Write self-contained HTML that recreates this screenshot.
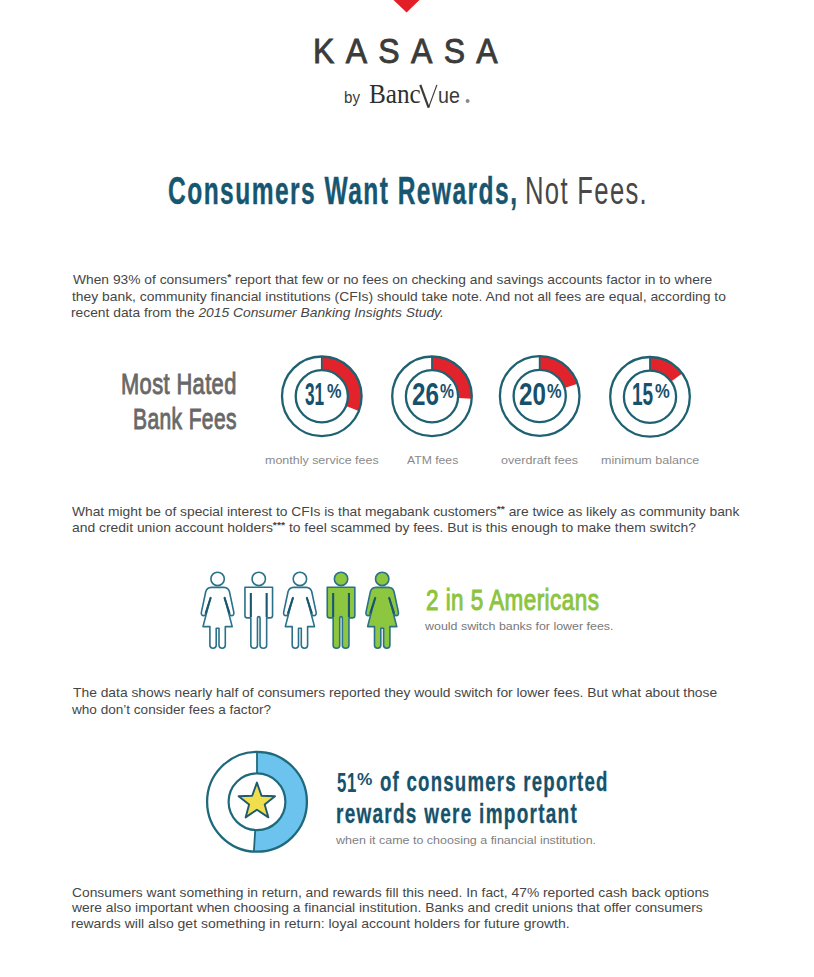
<!DOCTYPE html>
<html><head><meta charset="utf-8">
<style>
html,body{margin:0;padding:0;background:#fff;}
body{width:814px;height:977px;position:relative;overflow:hidden;font-family:"Liberation Sans",sans-serif;}
.t{position:absolute;white-space:nowrap;line-height:1;transform-origin:0 0;}
.s{font-size:75%;font-weight:bold;position:relative;top:-0.4em;}
.pc{font-size:58%;position:relative;top:-0.62em;margin-left:0.04em;}
svg{position:absolute;left:0;top:0;}
</style></head><body>
<svg width="814" height="977" viewBox="0 0 814 977">
<path d="M393.5,0 L419.5,0 L406.6,12.6 Z" fill="#e21f27"/>
<path d="M428.6,107.6 L436.9,84.9" fill="none" stroke="#3b3b39" stroke-width="1.2"/>
<path d="M420.3,84.8 L428.6,107.6" fill="none" stroke="#3b3b39" stroke-width="2.2"/>
<circle cx="467.6" cy="101" r="2" fill="#8a8a8a"/>
<path d="M321.80,356.50 A39.8,39.8 0 0 1 358.81,410.95 L346.07,405.91 A26.1,26.1 0 0 0 321.80,370.20 Z" fill="#e3232b"/><circle cx="321.8" cy="396.3" r="39.8" fill="none" stroke="#1e6272" stroke-width="2.3"/><circle cx="321.8" cy="396.3" r="26.1" fill="none" stroke="#1e6272" stroke-width="2.3"/><line x1="321.8" y1="356.5" x2="321.8" y2="370.2" stroke="#1e6272" stroke-width="1.8"/>
<path d="M432.00,356.50 A39.8,39.8 0 0 1 471.72,398.80 L458.05,397.94 A26.1,26.1 0 0 0 432.00,370.20 Z" fill="#e3232b"/><circle cx="432.0" cy="396.3" r="39.8" fill="none" stroke="#1e6272" stroke-width="2.3"/><circle cx="432.0" cy="396.3" r="26.1" fill="none" stroke="#1e6272" stroke-width="2.3"/><line x1="432.0" y1="356.5" x2="432.0" y2="370.2" stroke="#1e6272" stroke-width="1.8"/>
<path d="M539.70,356.20 A39.8,39.8 0 0 1 577.55,383.70 L564.52,387.93 A26.1,26.1 0 0 0 539.70,369.90 Z" fill="#e3232b"/><circle cx="539.7" cy="396.0" r="39.8" fill="none" stroke="#1e6272" stroke-width="2.3"/><circle cx="539.7" cy="396.0" r="26.1" fill="none" stroke="#1e6272" stroke-width="2.3"/><line x1="539.7" y1="356.2" x2="539.7" y2="369.9" stroke="#1e6272" stroke-width="1.8"/>
<path d="M650.00,357.00 A39.8,39.8 0 0 1 682.20,373.41 L671.12,381.46 A26.1,26.1 0 0 0 650.00,370.70 Z" fill="#e3232b"/><circle cx="650.0" cy="396.8" r="39.8" fill="none" stroke="#1e6272" stroke-width="2.3"/><circle cx="650.0" cy="396.8" r="26.1" fill="none" stroke="#1e6272" stroke-width="2.3"/><line x1="650.0" y1="357.0" x2="650.0" y2="370.7" stroke="#1e6272" stroke-width="1.8"/>
<g transform="translate(217.6,566)"><circle cx="0" cy="12.9" r="6.7" fill="#ffffff" stroke="#2a7189" stroke-width="1.6"/><path d="M0,21.4 L6.5,21.4 Q10.5,21.6 11.8,25.5 L16.2,46.2 Q16.8,49.6 13.8,49.6 Q12.3,49.6 11.9,48 L7,31.5 L14.6,60.6 L7.7,60.6 L7.7,79.3 Q7.7,82.2 4.6,82.2 Q1.4,82.2 1.4,79.3 L1.4,62.2 L-1.4,62.2 L-1.4,79.3 Q-1.4,82.2 -4.6,82.2 Q-7.7,82.2 -7.7,79.3 L-7.7,60.6 L-14.6,60.6 L-7,31.5 L-11.9,48 Q-12.3,49.6 -13.8,49.6 Q-16.8,49.6 -16.2,46.2 L-11.8,25.5 Q-10.5,21.6 -6.5,21.4 Z" fill="#ffffff" stroke="#2a7189" stroke-width="1.6" stroke-linejoin="round"/><path d="M6.8,31.5 L12,47.5 M-6.8,31.5 L-12,47.5" fill="none" stroke="#1b5670" stroke-width="2.1"/></g>
<g transform="translate(258.75,566)"><circle cx="0" cy="12.9" r="6.7" fill="#ffffff" stroke="#2a7189" stroke-width="1.6"/><path d="M-13.8,21.2 L13.8,21.2 L13.8,49.4 Q13.8,51.9 11.3,51.9 L7.9,51.9 L7.9,79.2 Q7.9,82.2 4.6,82.2 Q1.3,82.2 1.3,79.2 L1.3,52.5 Q1.3,50.6 0,50.6 Q-1.3,50.6 -1.3,52.5 L-1.3,79.2 Q-1.3,82.2 -4.6,82.2 Q-7.9,82.2 -7.9,79.2 L-7.9,51.9 L-11.3,51.9 Q-13.8,51.9 -13.8,49.4 Z" fill="#ffffff" stroke="#2a7189" stroke-width="1.6" stroke-linejoin="round"/><path d="M7.9,27 L7.9,51 M-7.9,27 L-7.9,51" fill="none" stroke="#1b5670" stroke-width="2.1"/></g>
<g transform="translate(299.9,566)"><circle cx="0" cy="12.9" r="6.7" fill="#ffffff" stroke="#2a7189" stroke-width="1.6"/><path d="M0,21.4 L6.5,21.4 Q10.5,21.6 11.8,25.5 L16.2,46.2 Q16.8,49.6 13.8,49.6 Q12.3,49.6 11.9,48 L7,31.5 L14.6,60.6 L7.7,60.6 L7.7,79.3 Q7.7,82.2 4.6,82.2 Q1.4,82.2 1.4,79.3 L1.4,62.2 L-1.4,62.2 L-1.4,79.3 Q-1.4,82.2 -4.6,82.2 Q-7.7,82.2 -7.7,79.3 L-7.7,60.6 L-14.6,60.6 L-7,31.5 L-11.9,48 Q-12.3,49.6 -13.8,49.6 Q-16.8,49.6 -16.2,46.2 L-11.8,25.5 Q-10.5,21.6 -6.5,21.4 Z" fill="#ffffff" stroke="#2a7189" stroke-width="1.6" stroke-linejoin="round"/><path d="M6.8,31.5 L12,47.5 M-6.8,31.5 L-12,47.5" fill="none" stroke="#1b5670" stroke-width="2.1"/></g>
<g transform="translate(341.04999999999995,566)"><circle cx="0" cy="12.9" r="6.7" fill="#8dc63f" stroke="#2a7189" stroke-width="1.6"/><path d="M-13.8,21.2 L13.8,21.2 L13.8,49.4 Q13.8,51.9 11.3,51.9 L7.9,51.9 L7.9,79.2 Q7.9,82.2 4.6,82.2 Q1.3,82.2 1.3,79.2 L1.3,52.5 Q1.3,50.6 0,50.6 Q-1.3,50.6 -1.3,52.5 L-1.3,79.2 Q-1.3,82.2 -4.6,82.2 Q-7.9,82.2 -7.9,79.2 L-7.9,51.9 L-11.3,51.9 Q-13.8,51.9 -13.8,49.4 Z" fill="#8dc63f" stroke="#2a7189" stroke-width="1.6" stroke-linejoin="round"/><path d="M7.9,27 L7.9,51 M-7.9,27 L-7.9,51" fill="none" stroke="#1b5670" stroke-width="2.1"/></g>
<g transform="translate(382.2,566)"><circle cx="0" cy="12.9" r="6.7" fill="#8dc63f" stroke="#2a7189" stroke-width="1.6"/><path d="M0,21.4 L6.5,21.4 Q10.5,21.6 11.8,25.5 L16.2,46.2 Q16.8,49.6 13.8,49.6 Q12.3,49.6 11.9,48 L7,31.5 L14.6,60.6 L7.7,60.6 L7.7,79.3 Q7.7,82.2 4.6,82.2 Q1.4,82.2 1.4,79.3 L1.4,62.2 L-1.4,62.2 L-1.4,79.3 Q-1.4,82.2 -4.6,82.2 Q-7.7,82.2 -7.7,79.3 L-7.7,60.6 L-14.6,60.6 L-7,31.5 L-11.9,48 Q-12.3,49.6 -13.8,49.6 Q-16.8,49.6 -16.2,46.2 L-11.8,25.5 Q-10.5,21.6 -6.5,21.4 Z" fill="#8dc63f" stroke="#2a7189" stroke-width="1.6" stroke-linejoin="round"/><path d="M6.8,31.5 L12,47.5 M-6.8,31.5 L-12,47.5" fill="none" stroke="#1b5670" stroke-width="2.1"/></g>
<path d="M257.00,751.90 A49.9,49.9 0 1 1 253.87,851.60 L255.22,830.14 A28.4,28.4 0 1 0 257.00,773.40 Z" fill="#6cc4ee"/>
<circle cx="257.0" cy="801.8" r="49.9" fill="none" stroke="#1e6a7c" stroke-width="2.3"/>
<circle cx="257.0" cy="801.8" r="28.4" fill="none" stroke="#1e6a7c" stroke-width="2.2"/>
<line x1="257.0" y1="751.9" x2="257.0" y2="773.4" stroke="#1e6a7c" stroke-width="1.8"/>
<line x1="253.87" y1="851.60" x2="255.22" y2="830.14" stroke="#1e6a7c" stroke-width="1.8"/>
<path d="M256.9,782.6 L261.5,795.8 L275,796.2 L264.7,804.4 L268.4,817.4 L256.9,809.8 L245.6,817.4 L249.1,804.4 L238.6,796.2 L252.2,795.8 Z" fill="#f1de4c" stroke="#1d5a6e" stroke-width="1.9" stroke-linejoin="round"/>
</svg>
<div class="t" id="kasasa" style="left:312.83px;top:34.00px;font-size:35.6px;color:#3b3b39;letter-spacing:12.6px;-webkit-text-stroke:0.9px #3b3b39;transform:scaleX(0.8993);">KASASA</div>
<div class="t" id="by" style="left:344.48px;top:89.00px;font-size:16.5px;color:#3b3b39;transform:scaleX(0.9181);">by</div>
<div class="t" id="banc" style="left:369.09px;top:80.00px;font-size:28px;font-family:'Liberation Serif',serif;color:#2f2f2d;transform:scaleX(0.9004);">Banc</div>
<div class="t" id="ue" style="left:437.99px;top:84.00px;font-size:22.7px;color:#3b3b39;transform:scaleX(0.8660);">ue</div>
<div class="t" id="t1" style="left:168.38px;top:172.00px;font-size:38.8px;color:#175670;font-weight:bold;letter-spacing:2.3px;-webkit-text-stroke:0.4px #175670;transform:scaleX(0.6328);">Consumers Want Rewards,</div>
<div class="t" id="t2" style="left:525.35px;top:172.00px;font-size:38.8px;color:#474747;letter-spacing:2px;transform:scaleX(0.6609);">Not Fees.</div>
<div class="t" id="p1a" style="left:72.53px;top:274.00px;font-size:12.6px;color:#464646;transform:scaleX(1.0957);">When 93% of consumers<span class=s>*</span> report that few or no fees on checking and savings accounts factor in to where</div>
<div class="t" id="p1b" style="left:72.23px;top:291.00px;font-size:12.6px;color:#464646;transform:scaleX(1.1002);">they bank, community financial institutions (CFIs) should take note. And not all fees are equal, according to</div>
<div class="t" id="p1c" style="left:71.13px;top:307.00px;font-size:12.6px;color:#464646;transform:scaleX(1.0965);">recent data from the <i>2015 Consumer Banking Insights Study.</i></div>
<div class="t" id="mh1" style="left:120.64px;top:370.00px;font-size:28.6px;color:#686868;letter-spacing:0.5px;-webkit-text-stroke:0.9px #686868;transform:scaleX(0.7653);">Most Hated</div>
<div class="t" id="mh2" style="left:132.68px;top:405.00px;font-size:28.6px;color:#686868;letter-spacing:0.5px;-webkit-text-stroke:0.9px #686868;transform:scaleX(0.7358);">Bank Fees</div>
<div class="t" id="n1" style="left:304.95px;top:379.00px;font-size:31.0px;color:#17506a;font-weight:bold;transform:scaleX(0.5568);">31</div>
<div class="t" id="n1p" style="left:327.38px;top:382.00px;font-size:19.5px;color:#17506a;font-weight:bold;transform:scaleX(0.8364);">%</div>
<div class="t" id="n2" style="left:411.72px;top:379.00px;font-size:31.0px;color:#17506a;font-weight:bold;transform:scaleX(0.7813);">26</div>
<div class="t" id="n2p" style="left:439.78px;top:382.00px;font-size:19.5px;color:#17506a;font-weight:bold;transform:scaleX(0.8023);">%</div>
<div class="t" id="n3" style="left:518.51px;top:379.00px;font-size:31.0px;color:#17506a;font-weight:bold;transform:scaleX(0.7800);">20</div>
<div class="t" id="n3p" style="left:547.47px;top:382.00px;font-size:19.5px;color:#17506a;font-weight:bold;transform:scaleX(0.8413);">%</div>
<div class="t" id="n4" style="left:631.82px;top:379.00px;font-size:31.0px;color:#17506a;font-weight:bold;transform:scaleX(0.6135);">15</div>
<div class="t" id="n4p" style="left:655.15px;top:382.00px;font-size:19.5px;color:#17506a;font-weight:bold;transform:scaleX(0.8501);">%</div>
<div class="t" id="l1" style="left:264.78px;top:455.00px;font-size:11.8px;color:#8a8a8a;transform:scaleX(1.0571);">monthly service fees</div>
<div class="t" id="l2" style="left:407.20px;top:455.00px;font-size:11.8px;color:#8a8a8a;transform:scaleX(1.0328);">ATM fees</div>
<div class="t" id="l3" style="left:500.55px;top:455.00px;font-size:11.8px;color:#8a8a8a;transform:scaleX(1.0677);">overdraft fees</div>
<div class="t" id="l4" style="left:600.57px;top:455.00px;font-size:11.8px;color:#8a8a8a;transform:scaleX(1.0616);">minimum balance</div>
<div class="t" id="p2a" style="left:72.00px;top:506.00px;font-size:12.6px;color:#464646;transform:scaleX(1.0954);">What might be of special interest to CFIs is that megabank customers<span class=s>**</span> are twice as likely as community bank</div>
<div class="t" id="p2b" style="left:72.00px;top:522.00px;font-size:12.6px;color:#464646;transform:scaleX(1.1034);">and credit union account holders<span class=s>***</span> to feel scammed by fees. But is this enough to make them switch?</div>
<div class="t" id="g1" style="left:425.55px;top:586.00px;font-size:28.8px;color:#8cc43f;letter-spacing:0.6px;-webkit-text-stroke:1px #8cc43f;transform:scaleX(0.7790);">2 in 5 Americans</div>
<div class="t" id="g2" style="left:425.18px;top:621.00px;font-size:11.5px;color:#787878;transform:scaleX(1.0804);">would switch banks for lower fees.</div>
<div class="t" id="p3a" style="left:72.77px;top:687.00px;font-size:12.6px;color:#464646;transform:scaleX(1.0981);">The data shows nearly half of consumers reported they would switch for lower fees. But what about those</div>
<div class="t" id="p3b" style="left:72.22px;top:704.00px;font-size:12.6px;color:#464646;transform:scaleX(1.0768);">who don’t consider fees a factor?</div>
<div class="t" id="r1" style="left:336.58px;top:769.00px;font-size:27.5px;color:#16526b;font-weight:bold;letter-spacing:1px;transform:scaleX(0.6113);">51</div>
<div class="t" id="r1p" style="left:356.80px;top:771.00px;font-size:17.0px;color:#16526b;font-weight:bold;transform:scaleX(1.0146);">%</div>
<div class="t" id="r1b" style="left:379.60px;top:769.00px;font-size:27.0px;color:#16526b;font-weight:bold;letter-spacing:1.8px;-webkit-text-stroke:0.3px #16526b;transform:scaleX(0.6890);">of consumers reported</div>
<div class="t" id="r2" style="left:336.20px;top:801.00px;font-size:27.0px;color:#16526b;font-weight:bold;letter-spacing:1.8px;-webkit-text-stroke:0.3px #16526b;transform:scaleX(0.7033);">rewards were important</div>
<div class="t" id="r3" style="left:336.04px;top:835.00px;font-size:11.5px;color:#808080;transform:scaleX(1.0849);">when it came to choosing a financial institution.</div>
<div class="t" id="p4a" style="left:71.72px;top:887.00px;font-size:12.6px;color:#464646;transform:scaleX(1.0977);">Consumers want something in return, and rewards fill this need. In fact, 47% reported cash back options</div>
<div class="t" id="p4b" style="left:71.82px;top:902.00px;font-size:12.6px;color:#464646;transform:scaleX(1.0991);">were also important when choosing a financial institution. Banks and credit unions that offer consumers</div>
<div class="t" id="p4c" style="left:70.71px;top:918.00px;font-size:12.6px;color:#464646;transform:scaleX(1.1114);">rewards will also get something in return: loyal account holders for future growth.</div>
</body></html>
